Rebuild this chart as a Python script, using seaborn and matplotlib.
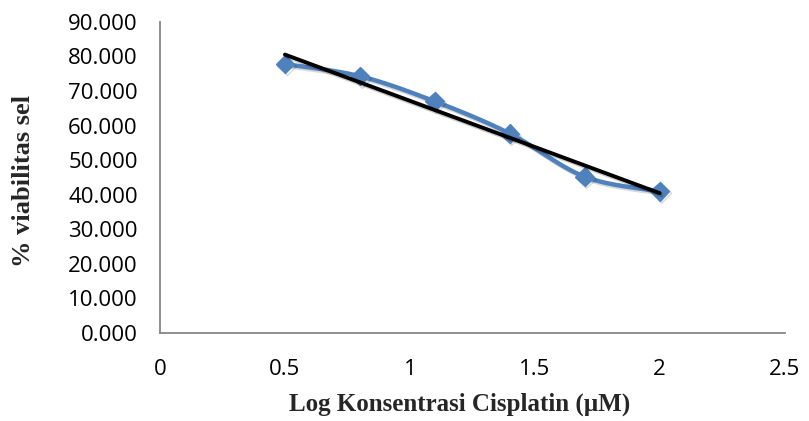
import numpy as np
import pandas as pd
import matplotlib
matplotlib.use("Agg")
import matplotlib.pyplot as plt
import matplotlib.patheffects as pe
import seaborn as sns

log_conc = [0.5, 0.8, 1.1, 1.4, 1.7, 2.0]
viability = [77.8, 74.3, 67.0, 57.7, 45.2, 41.0]
x_ticks = [0, 0.5, 1, 1.5, 2, 2.5]
y_ticks = [0, 10, 20, 30, 40, 50, 60, 70, 80, 90]

sns.set_theme(style="white")
plt.rcParams['font.family'] = ['Open Sans', 'DejaVu Sans']

df = pd.DataFrame({"x": log_conc, "y": viability})

# Smoothed curve (Catmull-Rom) for display, like Excel's smoothed line
def catmull_rom(xs, ys, n=30):
    P = np.column_stack([xs, ys])
    P = np.vstack([P[0], P, P[-1]])
    out = []
    for i in range(1, len(P) - 2):
        p0, p1, p2, p3 = P[i - 1], P[i], P[i + 1], P[i + 2]
        t = np.linspace(0, 1, n, endpoint=False)[:, None]
        seg = 0.5 * ((2 * p1) + (-p0 + p2) * t + (2 * p0 - 5 * p1 + 4 * p2 - p3) * t ** 2
                     + (-p0 + 3 * p1 - 3 * p2 + p3) * t ** 3)
        out.append(seg)
    out.append(P[-2][None, :])
    return np.vstack(out)

smooth = catmull_rom(np.array(log_conc), np.array(viability))
sdf = pd.DataFrame({"x": smooth[:, 0], "y": smooth[:, 1]})

fig = plt.figure(figsize=(8.09, 4.21), dpi=100)
ax = fig.add_axes([0.1978, 0.209, 0.772, 0.739])

blue = "#4F81BD"
shadow = [pe.SimpleLineShadow(offset=(1.2, -1.5), alpha=0.15, shadow_color="black"), pe.Normal()]

sns.lineplot(data=sdf, x="x", y="y", ax=ax, color=blue, linewidth=3.2, sort=False,
             estimator=None, path_effects=shadow)
ax.plot(df["x"], df["y"], linestyle="none", marker="D", markersize=9.5, color=blue,
        markeredgecolor=blue, path_effects=shadow, zorder=3)

# Linear trend line
slope, intercept = np.polyfit(df["x"], df["y"], 1)
tx = np.array([min(log_conc), max(log_conc)])
ax.plot(tx, slope * tx + intercept, color="black", linewidth=2.8, zorder=4,
        path_effects=[pe.SimpleLineShadow(offset=(1.2, -1.5), alpha=0.2, shadow_color="black"), pe.Normal()])

ax.set_xlim(0, 2.5)
ax.set_ylim(0, 90)
ax.set_xticks(x_ticks)
ax.set_xticklabels([f"{v:g}" for v in x_ticks])
ax.set_yticks(y_ticks)
ax.set_yticklabels([f"{v:.3f}" for v in y_ticks])

for s in ["top", "right"]:
    ax.spines[s].set_visible(False)
for s in ["left", "bottom"]:
    ax.spines[s].set_color("#868686")
    ax.spines[s].set_linewidth(1.3)
ax.tick_params(axis="both", which="both", direction="out", length=4, width=1.3,
               color="#868686", labelsize=16, labelcolor="black")
ax.tick_params(axis="x", pad=15)
ax.tick_params(axis="y", pad=12)

ax.set_xlabel("Log Konsentrasi Cisplatin (µM)", fontsize=18, fontweight="bold",
              family=["Liberation Serif", "DejaVu Serif"])
ax.xaxis.set_label_coords(0.48, -0.228, transform=ax.transAxes)
ax.xaxis.label.set_va("center")
ax.set_ylabel("% viabilitas sel", fontsize=19, fontweight="bold",
              family=["Liberation Serif", "DejaVu Serif"])
ax.yaxis.set_label_coords(-0.218, 0.49, transform=ax.transAxes)
ax.yaxis.label.set_va("center")

fig.savefig("out.png", dpi=100)
